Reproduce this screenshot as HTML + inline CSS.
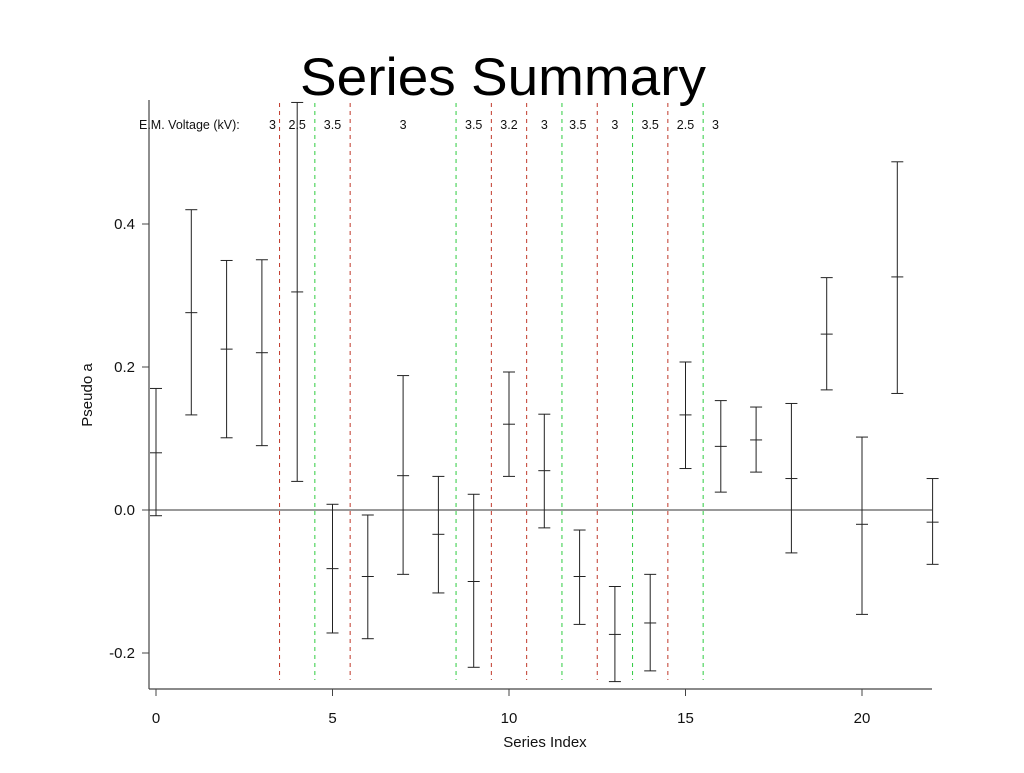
<!DOCTYPE html>
<html><head><meta charset="utf-8"><style>
body{margin:0;background:#fff;width:1024px;height:768px;overflow:hidden}
svg{font-family:"Liberation Sans",Arial,sans-serif}
</style></head><body>
<svg id="chart" width="1024" height="768">
<text x="503" y="95" text-anchor="middle" font-size="53" fill="#000" textLength="406" lengthAdjust="spacingAndGlyphs">Series Summary</text>
<g id="plot"></g>
</svg>
<script>
const idx=[0,1,2,3,4,5,6,7,8,9,10,11,12,13,14,15,16,17,18,19,20,21,22];
const means=[0.08,0.276,0.225,0.22,0.305,-0.082,-0.093,0.048,-0.034,-0.1,0.12,0.055,-0.093,-0.174,-0.158,0.133,0.089,0.098,0.044,0.246,-0.02,0.326,-0.017];
const lows=[-0.008,0.133,0.101,0.09,0.04,-0.172,-0.18,-0.09,-0.116,-0.22,0.047,-0.025,-0.16,-0.24,-0.225,0.058,0.025,0.053,-0.06,0.168,-0.146,0.163,-0.076];
const highs=[0.17,0.42,0.349,0.35,0.57,0.008,-0.007,0.188,0.047,0.022,0.193,0.134,-0.028,-0.107,-0.09,0.207,0.153,0.144,0.149,0.325,0.102,0.487,0.044];
const xTicks=[0,5,10,15,20];
const yTicks=[-0.2,0.0,0.2,0.4];
const yTickLabels=["-0.2","0.0","0.2","0.4"];
const dividerPos=[3.5,4.5,5.5,8.5,9.5,10.5,11.5,12.5,13.5,14.5,15.5];
const dividerKind=["r","g","r","g","r","r","g","r","g","r","g"];
const voltPos=[3.3,4,5,7,9,10,11,11.95,13,14,15,15.85];
const voltLabels=["3","2.5","3.5","3","3.5","3.2","3","3.5","3","3.5","2.5","3"];
const X=v=>156+v*35.3;
const Y=v=>510-v*715;
const NS="http://www.w3.org/2000/svg";
const g=document.getElementById('plot');
function mk(t,a,txt){const e=document.createElementNS(NS,t);for(const k in a)e.setAttribute(k,a[k]);if(txt!=null)e.textContent=txt;g.appendChild(e);return e;}
let e;
e=mk('line',{x1:149,y1:100,x2:149,y2:689,stroke:'#444','stroke-width':1.2});


e=mk('line',{x1:149,y1:689,x2:932,y2:689,stroke:'#444','stroke-width':1.2});


e=mk('line',{x1:149,y1:Y(0),x2:932,y2:Y(0),stroke:'#333','stroke-width':1});


xTicks.forEach(t=>{
 e=mk('line',{x1:X(t),y1:689,x2:X(t),y2:696,stroke:'#444'});
 
 
 e=mk('text',{x:X(t),y:723,'text-anchor':'middle','font-size':15,fill:'#111'},String(t));
 
 
});
yTicks.forEach((t,i)=>{
 e=mk('line',{x1:142,y1:Y(t),x2:149,y2:Y(t),stroke:'#444'});
 
 
 e=mk('text',{x:135,y:Y(t)+5,'text-anchor':'end','font-size':15,fill:'#111'},yTickLabels[i]);
 
 
});
e=mk('text',{x:545,y:747,'text-anchor':'middle','font-size':15,fill:'#111'},'Series Index');


e=mk('text',{x:92,y:395,'text-anchor':'middle','font-size':15,fill:'#111',transform:'rotate(-90 92 395)'},'Pseudo a');


dividerPos.forEach((p,i)=>{
 e=mk('line',{x1:X(p),y1:103,x2:X(p),y2:680,stroke:dividerKind[i]==='r'?'#c0392b':'#2ecc40','stroke-width':1,'stroke-dasharray':'4,4'});
 
 
});
e=mk('text',{x:139,y:129,'font-size':12.5,fill:'#111'},'E.M. Voltage (kV):');


voltPos.forEach((p,i)=>{
 e=mk('text',{x:X(p),y:129,'text-anchor':'middle','font-size':12.5,fill:'#111'},voltLabels[i]);
 
 
});
idx.forEach((k,i)=>{
 const x=X(k);
 e=mk('line',{x1:x,y1:Y(highs[i]),x2:x,y2:Y(lows[i]),stroke:'#222','stroke-width':1});
 
 
 [highs[i],lows[i],means[i]].forEach(v=>{
  e=mk('line',{x1:x-6,y1:Y(v),x2:x+6,y2:Y(v),stroke:'#222','stroke-width':1});
  
  
 });
});
</script>
</body></html>
